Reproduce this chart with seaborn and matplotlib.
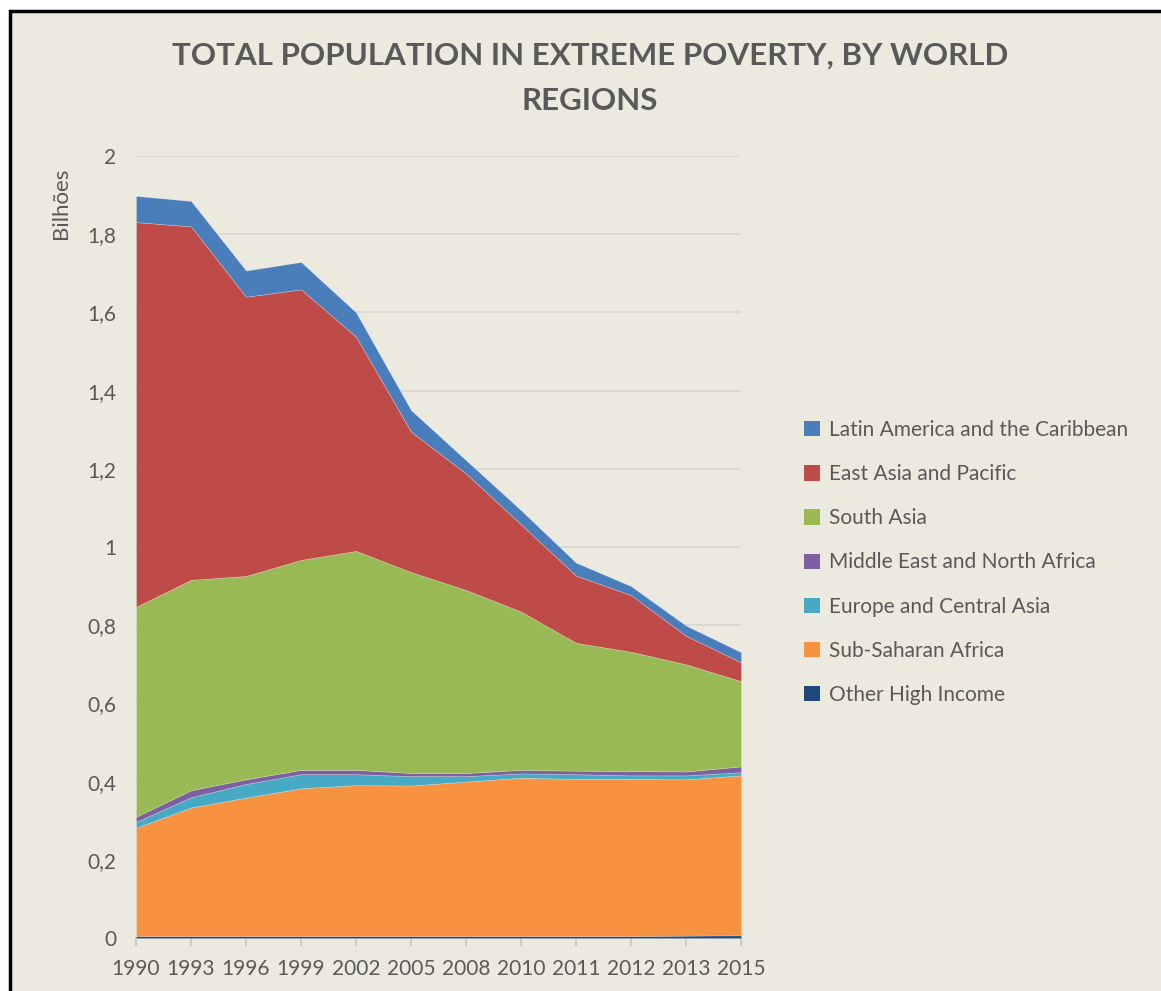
import matplotlib
matplotlib.use("Agg")
import matplotlib.pyplot as plt
from matplotlib.patches import Rectangle, Patch
import seaborn as sns
import numpy as np

years = ["1990", "1993", "1996", "1999", "2002", "2005", "2008", "2010", "2011", "2012", "2013", "2015"]
other_high_income = [0.005, 0.005, 0.005, 0.005, 0.005, 0.005, 0.005, 0.005, 0.005, 0.005, 0.006, 0.007]
sub_saharan_africa = [0.277, 0.329, 0.354, 0.378, 0.386, 0.385, 0.395, 0.405, 0.402, 0.402, 0.400, 0.409]
europe_central_asia = [0.015, 0.026, 0.035, 0.036, 0.028, 0.024, 0.014, 0.011, 0.012, 0.009, 0.010, 0.008]
middle_east_n_africa = [0.013, 0.018, 0.012, 0.011, 0.011, 0.008, 0.008, 0.009, 0.009, 0.011, 0.010, 0.015]
south_asia = [0.537, 0.538, 0.520, 0.537, 0.560, 0.514, 0.468, 0.405, 0.327, 0.305, 0.274, 0.218]
east_asia_pacific = [0.984, 0.904, 0.714, 0.692, 0.548, 0.359, 0.298, 0.223, 0.172, 0.145, 0.073, 0.048]
latin_america = [0.067, 0.065, 0.067, 0.070, 0.062, 0.055, 0.034, 0.036, 0.033, 0.023, 0.026, 0.026]

series_names = ["Other High Income", "Sub-Saharan Africa", "Europe and Central Asia",
                "Middle East and North Africa", "South Asia", "East Asia and Pacific",
                "Latin America and the Caribbean"]
series_values = [other_high_income, sub_saharan_africa, europe_central_asia,
                 middle_east_n_africa, south_asia, east_asia_pacific, latin_america]
colors = ["#1F497D", "#F69240", "#46AAC5", "#7D60A0", "#98B954", "#BE4B48", "#4A7EBB"]

BG = "#ECE9DF"
TXT = "#595959"

sns.set_theme(style="white")
plt.rcParams["font.family"] = ["Lato", "DejaVu Sans"]

W, H = 1161, 991
fig = plt.figure(figsize=(W / 100, H / 100), dpi=100)
fig.patch.set_facecolor("white")
fig.patches.append(Rectangle((9.5 / W, -0.05), 1.2, (H - 11) / H + 0.05,
                             transform=fig.transFigure, facecolor=BG,
                             edgecolor="black", linewidth=2.5, zorder=-10))

ax = fig.add_axes([136 / W, 1 - 938 / H, (741 - 136) / W, (938 - 156) / H])
ax.set_facecolor(BG)

x = np.arange(len(years))
ax.stackplot(x, *series_values, colors=colors, labels=series_names,
             edgecolor=(1, 1, 1, 0.3), linewidth=0.5, zorder=3)

ax.set_xlim(0, len(years) - 1)
ax.set_ylim(0, 2)
yt = np.arange(0, 2.01, 0.2)
ax.set_yticks(yt)
ax.set_yticklabels([("%g" % round(v, 1)).replace(".", ",") for v in yt],
                   color=TXT, fontsize=15)
ax.set_xticks(x)
ax.set_xticklabels(years, color=TXT, fontsize=15)
ax.grid(axis="y", color="#D8D6D0", linewidth=1.2, zorder=0)
for s in ["top", "right", "left"]:
    ax.spines[s].set_visible(False)
ax.spines["bottom"].set_color("#C8C6C0")
ax.spines["bottom"].set_zorder(2)
ax.tick_params(axis="x", length=6, color="#C8C6C0", pad=9, direction="out", bottom=True)
ax.tick_params(axis="y", length=0, pad=14)
for lab in ax.get_yticklabels():
    lab.set_horizontalalignment("right")

fig.text(590 / W, 1 - 56 / H, "TOTAL POPULATION IN EXTREME POVERTY, BY WORLD",
         ha="center", va="center", fontsize=22.5, fontweight="bold", color=TXT)
fig.text(590 / W, 1 - 101 / H, "REGIONS",
         ha="center", va="center", fontsize=22.5, fontweight="bold", color=TXT)
fig.text(61 / W, 1 - 203 / H, "Bilhões", rotation=90, ha="center", va="center",
         fontsize=16, color=TXT)

handles = [Patch(facecolor=c, edgecolor="none", label=n) for c, n in zip(colors, series_names)]
handles = handles[::-1]
leg = fig.legend(handles=handles, loc="upper left", bbox_to_anchor=(804 / W, 1 - 420 / H),
                 frameon=False, fontsize=15, labelcolor=TXT, handlelength=0.75,
                 handleheight=0.75, handletextpad=0.45, labelspacing=1.16,
                 borderaxespad=0, borderpad=0)

fig.savefig("out.png", dpi=100, facecolor=fig.get_facecolor())
